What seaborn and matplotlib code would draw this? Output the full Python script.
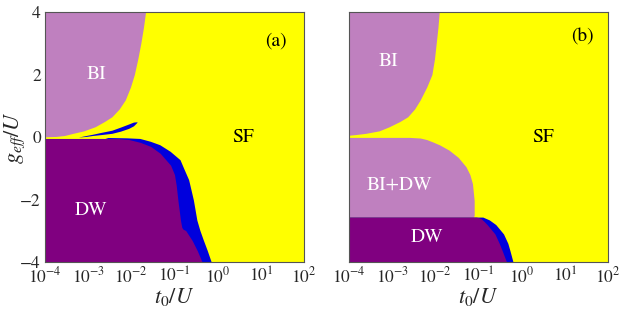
import numpy as np
import matplotlib
matplotlib.use('Agg')
import matplotlib.pyplot as plt
import seaborn as sns

# boundaries: g_eff/U values and log10(t0/U) values

# panel (a)
a_bi_g = [0.01, 0.02, 0.05, 0.12, 0.2, 0.33, 0.5, 0.65, 0.9, 1.19, 1.6, 2.0, 2.5, 3.0, 3.5, 4.0]
a_bi_logt = [-4.0, -3.75, -3.55, -3.35, -3.1, -2.84, -2.62, -2.45, -2.28, -2.14, -2.02, -1.93, -1.85, -1.78, -1.72, -1.67]

a_sf_g = [-4.0, -3.64, -3.31, -3.0, -2.67, -2.03, -1.38, -1.0, -0.74, -0.47, -0.26, -0.15, -0.06, -0.04, -0.03]
a_sf_logt = [-0.14, -0.23, -0.32, -0.4, -0.47, -0.55, -0.66, -0.78, -0.86, -1.09, -1.33, -1.55, -1.79, -2.1, -2.53]

a_dw_g = [-4.0, -3.64, -3.31, -2.99, -2.95, -2.89, -2.67, -2.03, -1.54, -1.2, -0.9, -0.52, -0.3, -0.17, -0.08, -0.05, -0.05]
a_dw_logt = [-0.36, -0.47, -0.59, -0.74, -0.8, -0.83, -0.86, -0.92, -0.96, -1.0, -1.09, -1.33, -1.55, -1.79, -2.05, -2.3, -4.0]

sliver_logt = [-3.23, -3.05, -2.9, -2.7, -2.45, -2.25, -2.06, -1.95, -1.87]
sliver_lo = [0.0, 0.02, 0.05, 0.08, 0.12, 0.19, 0.28, 0.36, 0.47]
sliver_hi = [0.0, 0.05, 0.09, 0.15, 0.22, 0.32, 0.42, 0.48, 0.49]

# panel (b)
b_bi_g = [0.06, 0.08, 0.12, 0.2, 0.33, 0.5, 0.65, 0.9, 1.19, 1.6, 2.0, 2.5, 3.0, 3.5, 4.0]
b_bi_logt = [-4.0, -3.85, -3.61, -3.3, -3.07, -2.82, -2.64, -2.48, -2.35, -2.2, -2.08, -2.02, -1.98, -1.94, -1.91]

b_mix_g = [-2.56, -2.51, -2.03, -1.49, -1.2, -0.95, -0.65, -0.42, -0.25, -0.15, -0.08, -0.03, -0.01, -0.01]
b_mix_logt = [-1.12, -1.10, -1.10, -1.14, -1.2, -1.29, -1.47, -1.68, -1.9, -2.07, -2.2, -2.35, -2.6, -4.0]

b_sf_g = [-4.0, -3.64, -3.4, -3.1, -2.8, -2.65, -2.56]
b_sf_logt = [-0.2, -0.27, -0.32, -0.42, -0.6, -0.75, -0.9]

b_dw_g = [-4.0, -3.64, -3.4, -3.1, -2.8, -2.7, -2.6, -2.56]
b_dw_logt = [-0.35, -0.45, -0.52, -0.62, -0.8, -0.87, -0.95, -1.05]

sns.set_theme(style='white')
plt.rcParams['font.family'] = ['STIXGeneral', 'DejaVu Sans']
plt.rcParams['mathtext.fontset'] = 'stix'

c_bi = '#BF80BF'
c_dw = '#800080'
c_sf = '#FFFF00'
c_blue = '#0000DD'
tmin = 1e-4

fig = plt.figure(figsize=(6.23, 3.12), dpi=100)
ax1 = fig.add_axes([0.0722, 0.160, 0.4157, 0.8013])
ax2 = fig.add_axes([0.5602, 0.160, 0.4157, 0.8013])

t = lambda v: 10 ** np.asarray(v)

# (a)
ax1.set_facecolor(c_sf)
ax1.fill_betweenx(a_bi_g, tmin, t(a_bi_logt), color=c_bi, lw=0)
ax1.fill(np.r_[t(a_sf_logt), 10 ** -2.6, tmin, tmin],
         np.r_[a_sf_g, -0.06, -0.06, -4.0], color=c_blue, lw=0)
ax1.fill_betweenx(a_dw_g, tmin, t(a_dw_logt), color=c_dw, lw=0)
ax1.fill_between(t(sliver_logt), sliver_lo, sliver_hi, color=c_blue, lw=0)

# (b)
ax2.set_facecolor(c_sf)
ax2.fill_betweenx(b_bi_g, tmin, t(b_bi_logt), color=c_bi, lw=0)
ax2.fill_betweenx(b_mix_g, tmin, t(b_mix_logt), color=c_bi, lw=0)
ax2.fill_betweenx(b_sf_g, tmin, t(b_sf_logt), color=c_blue, lw=0)
ax2.fill_betweenx(b_dw_g, tmin, t(b_dw_logt), color=c_dw, lw=0)

for ax in (ax1, ax2):
    ax.set_xscale('log')
    ax.set_xlim(1e-4, 1e2)
    ax.set_ylim(-4, 4)
    ax.set_xticks([1e-4, 1e-3, 1e-2, 1e-1, 1e0, 1e1, 1e2])
    ax.minorticks_off()
    ax.tick_params(length=0, labelsize=12.5, pad=3)
    ax.set_xlabel('$t_0/U$', fontsize=16, labelpad=0)
    for s in ax.spines.values():
        s.set_color('#555555')
        s.set_linewidth(0.8)

ax1.set_yticks([-4, -2, 0, 2, 4])
ax1.set_ylabel('$g_{eff}/U$', fontsize=16)
ax1.yaxis.set_label_coords(-0.07, 0.5)
ax2.set_yticks([])

ax1.text(10 ** -2.8, 2.0, 'BI', color='white', fontsize=14, ha='center', va='center')
ax1.text(10 ** -2.93, -2.35, 'DW', color='white', fontsize=14, ha='center', va='center')
ax1.text(10 ** 0.58, 0.0, 'SF', color='black', fontsize=14, ha='center', va='center')
ax1.text(10 ** 1.35, 3.06, '(a)', color='black', fontsize=14, ha='center', va='center')

ax2.text(10 ** -3.09, 2.41, 'BI', color='white', fontsize=14, ha='center', va='center')
ax2.text(10 ** -2.83, -1.54, 'BI+DW', color='white', fontsize=14, ha='center', va='center')
ax2.text(10 ** -2.2, -3.2, 'DW', color='white', fontsize=14, ha='center', va='center')
ax2.text(10 ** 0.5, 0.0, 'SF', color='black', fontsize=14, ha='center', va='center')
ax2.text(10 ** 1.4, 3.2, '(b)', color='black', fontsize=14, ha='center', va='center')

fig.savefig('out.png', dpi=100)
